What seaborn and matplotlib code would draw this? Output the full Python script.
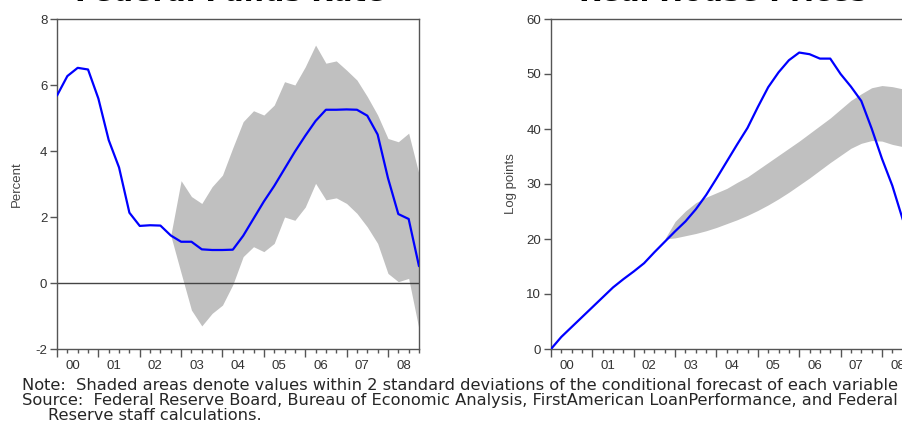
import matplotlib
matplotlib.use('Agg')
import matplotlib.pyplot as plt
import seaborn as sns
import numpy as np
import pandas as pd
from matplotlib import font_manager
from matplotlib.ticker import MultipleLocator

# quarterly data, 2000Q1 .. 2008Q4
quarters = pd.period_range('2000Q1', '2008Q4', freq='Q').astype(str).tolist()
year_labels = ['00', '01', '02', '03', '04', '05', '06', '07', '08']

fed_funds = [5.68, 6.27, 6.52, 6.47, 5.59, 4.33, 3.50, 2.13, 1.73, 1.75, 1.74, 1.44,
             1.25, 1.25, 1.02, 1.00, 1.00, 1.01, 1.43, 1.95, 2.47, 2.94, 3.46, 3.98,
             4.46, 4.91, 5.25, 5.25, 5.26, 5.25, 5.07, 4.50, 3.18, 2.09, 1.94, 0.51]

# forecast bands start in 2002Q4
band_quarters = quarters[11:]
ffr_upper = [1.44, 3.10, 2.62, 2.41, 2.92, 3.27, 4.10, 4.89, 5.22, 5.09, 5.39, 6.10, 6.00,
             6.55, 7.21, 6.66, 6.73, 6.45, 6.15, 5.65, 5.09, 4.38, 4.28, 4.54, 3.30]
ffr_lower = [1.44, 0.30, -0.82, -1.30, -0.92, -0.67, -0.05, 0.80, 1.10, 0.95, 1.20, 2.00, 1.90,
             2.30, 3.02, 2.52, 2.58, 2.41, 2.11, 1.70, 1.20, 0.29, 0.04, 0.14, -1.40]

house_prices = [0.0, 2.2, 4.0, 5.8, 7.6, 9.4, 11.2, 12.7, 14.1, 15.6, 17.6, 19.5,
                21.4, 23.2, 25.4, 28.0, 31.0, 34.1, 37.2, 40.2, 44.0, 47.6, 50.3, 52.5,
                53.9, 53.6, 52.8, 52.8, 50.0, 47.7, 45.1, 40.1, 34.6, 29.7, 23.6, 19.0]
hp_upper = [20.0, 23.2, 25.1, 26.6, 27.6, 28.4, 29.2, 30.3, 31.3, 32.6, 33.9, 35.2, 36.5,
            37.8, 39.2, 40.6, 42.0, 43.6, 45.2, 46.4, 47.5, 47.9, 47.7, 47.3, 47.0]
hp_lower = [20.0, 20.2, 20.6, 21.0, 21.5, 22.1, 22.8, 23.5, 24.3, 25.2, 26.2, 27.3, 28.5,
            29.8, 31.1, 32.5, 33.9, 35.2, 36.5, 37.4, 37.9, 37.8, 37.2, 36.8, 36.2]

note_lines = [
    'Note:  Shaded areas denote values within 2 standard deviations of the conditional forecast of each variable',
    'Source:  Federal Reserve Board, Bureau of Economic Analysis, FirstAmerican LoanPerformance, and Federal',
    'Reserve staff calculations.',
]

sns.set_theme(style='white')
plt.rcParams['font.family'] = ['DejaVu Sans']

names = {f.name for f in font_manager.fontManager.ttflist}
narrow = 'Liberation Sans Narrow' if 'Liberation Sans Narrow' in names else 'Liberation Sans'

pos = {q: i for i, q in enumerate(quarters)}
df = pd.DataFrame({'t': [pos[q] for q in quarters], 'ffr': fed_funds, 'hp': house_prices})
band = pd.DataFrame({'t': [pos[q] for q in band_quarters],
                     'ffr_up': ffr_upper, 'ffr_lo': ffr_lower,
                     'hp_up': hp_upper, 'hp_lo': hp_lower})

W, H = 903, 428
fig = plt.figure(figsize=(W / 100, H / 100), dpi=100)
fig.patch.set_facecolor('white')
ax1 = fig.add_axes([57 / W, 1 - 349 / H, 362 / W, 330 / H])
ax2 = fig.add_axes([551 / W, 1 - 349 / H, 362 / W, 330 / H])

spine_col = '#555555'
tick_col = '#333333'


def style_axis(ax, ylim, yticks, ylabel):
    ax.set_xlim(0, len(quarters) - 1)
    ax.set_ylim(*ylim)
    ax.set_yticks(yticks)
    ax.set_yticklabels([str(v) for v in yticks], family=narrow, fontsize=9.5, color=tick_col)
    ax.xaxis.set_major_locator(MultipleLocator(4))
    ax.xaxis.set_minor_locator(MultipleLocator(1))
    ax.tick_params(axis='x', which='major', bottom=True, length=6, width=1,
                   color=spine_col, labelbottom=False)
    ax.tick_params(axis='x', which='minor', bottom=True, length=3, width=1, color=spine_col)
    ax.tick_params(axis='y', which='major', left=True, length=5, width=1,
                   color=spine_col, pad=2)
    for s in ax.spines.values():
        s.set_color(spine_col)
        s.set_linewidth(1)
    ax.set_xlabel('')
    ax.set_ylabel(ylabel, family=narrow, fontsize=9.5, color='#444444')
    ax.yaxis.set_label_coords(-0.095, 0.5)

    sec = ax.secondary_xaxis('bottom')
    sec.set_xticks([1.5 + 4 * k for k in range(len(year_labels))], year_labels)
    sec.tick_params(length=0, pad=8)
    for lab in sec.get_xticklabels():
        lab.set_family(narrow)
        lab.set_fontsize(9.5)
        lab.set_color(tick_col)
    sec.spines['bottom'].set_visible(False)


# Federal funds rate
ax1.fill_between(band['t'], band['ffr_lo'], band['ffr_up'], color='#c0c0c0', lw=0, zorder=1)
ax1.axhline(0, color='#444444', lw=1, zorder=1.5)
sns.lineplot(data=df, x='t', y='ffr', ax=ax1, color='#0000ff', lw=1.6, zorder=3)
style_axis(ax1, (-2, 8), [-2, 0, 2, 4, 6, 8], 'Percent')

# Real house prices
ax2.fill_between(band['t'], band['hp_lo'], band['hp_up'], color='#c0c0c0', lw=0, zorder=1)
sns.lineplot(data=df, x='t', y='hp', ax=ax2, color='#0000ff', lw=1.6, zorder=3)
style_axis(ax2, (0, 60), [0, 10, 20, 30, 40, 50, 60], 'Log points')

# titles sit mostly above the cropped top edge
fig.text(230 / W, 1 - 1.0 / H, 'Federal Funds Rate', ha='center', va='baseline',
         fontsize=20.5, fontweight='bold', color='black')
fig.text(723 / W, 1 - 1.0 / H, 'Real House Prices', ha='center', va='baseline',
         fontsize=20.5, fontweight='bold', color='black')

# notes under the panels
fs = 11
t0 = fig.text(22 / W, 1 - 385 / H, note_lines[0], ha='left', va='center', fontsize=fs)
fig.canvas.draw()
w = t0.get_window_extent().width
fs = fs * 878 / w
t0.set_fontsize(fs)
fig.text(22 / W, 1 - 401 / H, note_lines[1], ha='left', va='center', fontsize=fs)
fig.text(48 / W, 1 - 416 / H, note_lines[2], ha='left', va='center', fontsize=fs)

fig.savefig('out.png', dpi=100)
plt.close(fig)
